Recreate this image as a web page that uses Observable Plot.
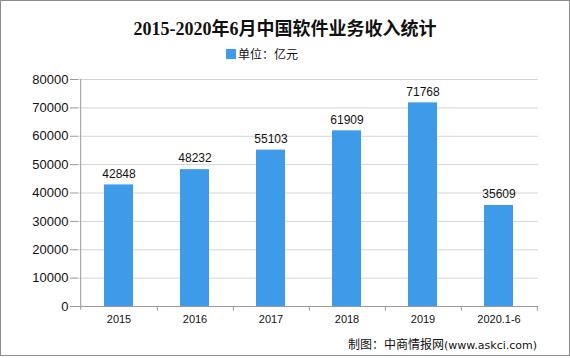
<!DOCTYPE html>
<html><head><meta charset="utf-8">
<script src="https://cdn.jsdelivr.net/npm/d3@7"></script>
<script src="https://cdn.jsdelivr.net/npm/@observablehq/plot@0.6"></script>
<style>
body{margin:0;background:#fff;}
#wrap{position:relative;width:570px;height:358px;overflow:hidden;}
#frame{position:absolute;left:0;top:0;width:568px;height:354px;border:1px solid #8c8c8c;pointer-events:none;}
#title{position:absolute;left:0;width:570px;top:14px;text-align:center;font:bold 18px "Liberation Serif","Noto Sans CJK SC",serif;color:#111;}
#legend{position:absolute;left:226px;top:45px;font:12px "Noto Sans CJK SC",sans-serif;color:#111;display:flex;align-items:center;}
#legend span.sw{display:inline-block;width:10px;height:10px;background:#3d9be9;margin-right:2px;}
#caption{position:absolute;left:348px;top:335px;font:12px "Noto Sans CJK SC",sans-serif;color:#111;}
#caption small{font:11px "DejaVu Sans",sans-serif;}
</style></head>
<body>
<div id="wrap">
<div id="chart"></div>
<div id="title">2015-2020年6月中国软件业务收入统计</div>
<div id="legend"><span class="sw"></span>单位：亿元</div>
<div id="caption">制图：中商情报网<small>(www.askci.com)</small></div>
<div id="frame"></div>
</div>
<script>
const categories = ["2015","2016","2017","2018","2019","2020.1-6"];
const values = [42848, 48232, 55103, 61909, 71768, 35609];
const yTicks = [0,10000,20000,30000,40000,50000,60000,70000,80000];

const data = categories.map((c,i)=>({cat:c, value:values[i]}));
const W = 570, H = 358, mL = 78, mR = 32, mT = 79, mB = 52;
const step = (W - mL - mR) / categories.length;

const chart = Plot.plot({
  width: W, height: H,
  marginLeft: mL, marginRight: mR, marginTop: mT, marginBottom: mB,
  style: {fontFamily: "Liberation Sans, Arial, sans-serif", background: "transparent"},
  x: {domain: categories, paddingInner: 0.62, paddingOuter: 0.31, label: null},
  y: {domain: [0, 80000], ticks: yTicks, label: null},
  marks: [
    Plot.gridY(yTicks.slice(1), {stroke: "#d4d4d4", strokeOpacity: 1}),
    Plot.barY(data, {x: "cat", y: "value", fill: "#3d9be9"}),
    Plot.text(data, {x: "cat", y: "value", text: d => String(d.value), dy: -11, fontSize: 12, fill: "#111"}),
    Plot.ruleY([0], {stroke: "#9a9a9a"}),
    Plot.ruleX([categories[0]], {x: d=>d, dx: -step/2, y1: -1300, y2: 80000, stroke: "#9a9a9a"}),
    Plot.ruleX(categories, {x: d=>d, dx: step/2, y1: 0, y2: -1700, stroke: "#9a9a9a"}),
    Plot.axisY({ticks: yTicks, tickSize: 8, tickPadding: 2, fontSize: 13, stroke: "#9a9a9a", fill: "#111", tickFormat: d => String(d)}),
    Plot.axisX({tickSize: 0, tickPadding: 9, fontSize: 11, fill: "#111"})
  ]
});
document.getElementById("chart").appendChild(chart);
</script>
</body></html>
